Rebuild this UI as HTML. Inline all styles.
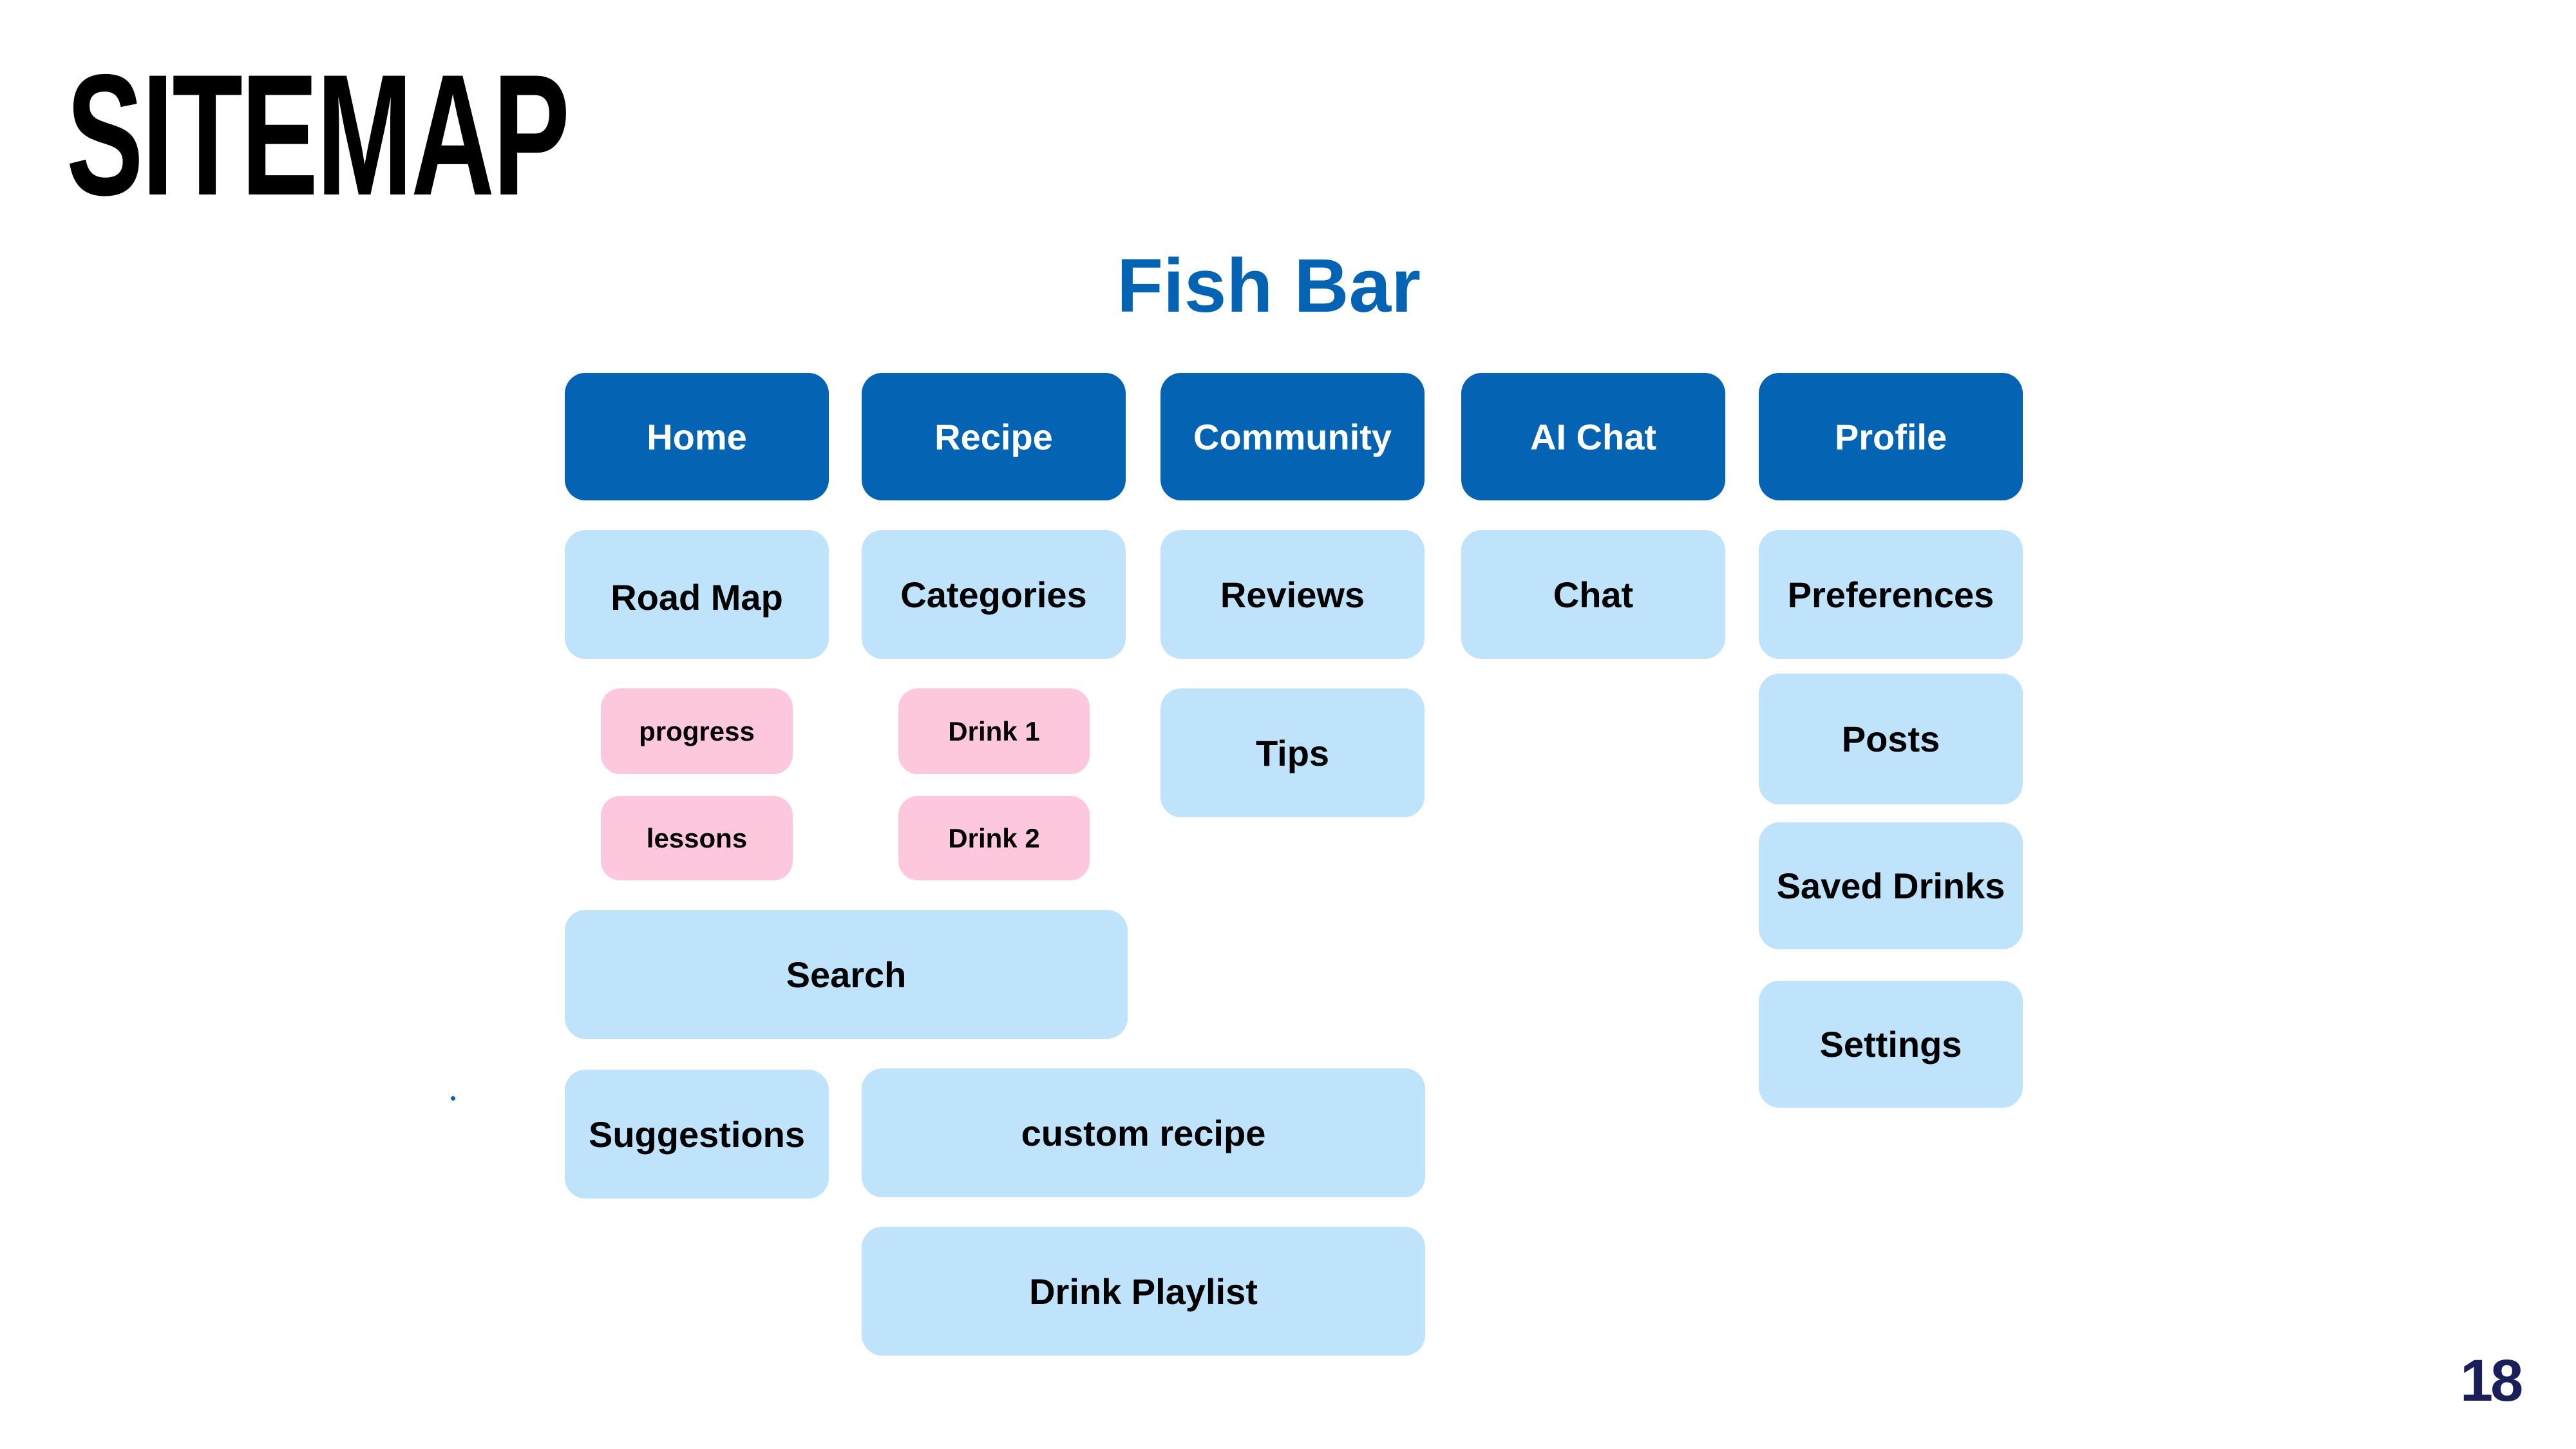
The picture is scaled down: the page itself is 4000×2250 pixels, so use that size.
<!DOCTYPE html>
<html><head><style>
html,body{margin:0;padding:0;background:#fff;}
body{width:4000px;height:2250px;position:relative;overflow:hidden;font-family:"Liberation Sans",sans-serif;}
.b{position:absolute;display:flex;align-items:center;justify-content:center;border-radius:32px;font-weight:bold;font-size:56px;color:#000;box-sizing:border-box;white-space:nowrap;}
.d{background:#0563b3;color:#fff;}
.l{background:#bee3fb;}
.p{background:#fdc8de;font-size:42px;border-radius:30px;}
</style></head><body>
<div style="position:absolute;left:103px;top:75px;font-size:268px;font-weight:bold;transform:scaleX(0.67);transform-origin:left top;letter-spacing:-4px;line-height:1;">SITEMAP</div>
<div style="position:absolute;left:1720px;top:385px;width:500px;text-align:center;font-size:118px;font-weight:bold;color:#0563b3;line-height:1;">Fish Bar</div>

<div class="b d" style="left:877px;top:579px;width:410px;height:198px;">Home</div>
<div class="b d" style="left:1338px;top:579px;width:410px;height:198px;">Recipe</div>
<div class="b d" style="left:1802px;top:579px;width:410px;height:198px;">Community</div>
<div class="b d" style="left:2269px;top:579px;width:410px;height:198px;">AI Chat</div>
<div class="b d" style="left:2731px;top:579px;width:410px;height:198px;">Profile</div>

<div class="b l" style="left:877px;top:823px;width:410px;height:200px;padding-top:8px;">Road Map</div>
<div class="b l" style="left:1338px;top:823px;width:410px;height:200px;">Categories</div>
<div class="b l" style="left:1802px;top:823px;width:410px;height:200px;">Reviews</div>
<div class="b l" style="left:2269px;top:823px;width:410px;height:200px;">Chat</div>
<div class="b l" style="left:2731px;top:823px;width:410px;height:200px;">Preferences</div>

<div class="b p" style="left:933px;top:1069px;width:298px;height:133px;">progress</div>
<div class="b p" style="left:933px;top:1236px;width:298px;height:131px;">lessons</div>
<div class="b p" style="left:1395px;top:1069px;width:297px;height:133px;">Drink 1</div>
<div class="b p" style="left:1395px;top:1236px;width:297px;height:131px;">Drink 2</div>

<div class="b l" style="left:1802px;top:1069px;width:410px;height:200px;">Tips</div>
<div class="b l" style="left:2731px;top:1046px;width:410px;height:203px;">Posts</div>
<div class="b l" style="left:2731px;top:1277px;width:410px;height:197px;">Saved Drinks</div>
<div class="b l" style="left:2731px;top:1523px;width:410px;height:197px;">Settings</div>

<div class="b l" style="left:877px;top:1413px;width:874px;height:200px;">Search</div>
<div class="b l" style="left:877px;top:1661px;width:410px;height:200px;">Suggestions</div>
<div class="b l" style="left:1338px;top:1659px;width:875px;height:200px;">custom recipe</div>
<div class="b l" style="left:1338px;top:1905px;width:875px;height:200px;">Drink Playlist</div>

<div style="position:absolute;left:700px;top:1702px;width:7px;height:7px;border-radius:50%;background:#0563b3;"></div>
<div style="position:absolute;left:3820px;top:2098px;font-size:92px;font-weight:bold;color:#1a1f5a;line-height:1;letter-spacing:-4px;">18</div>
</body></html>
